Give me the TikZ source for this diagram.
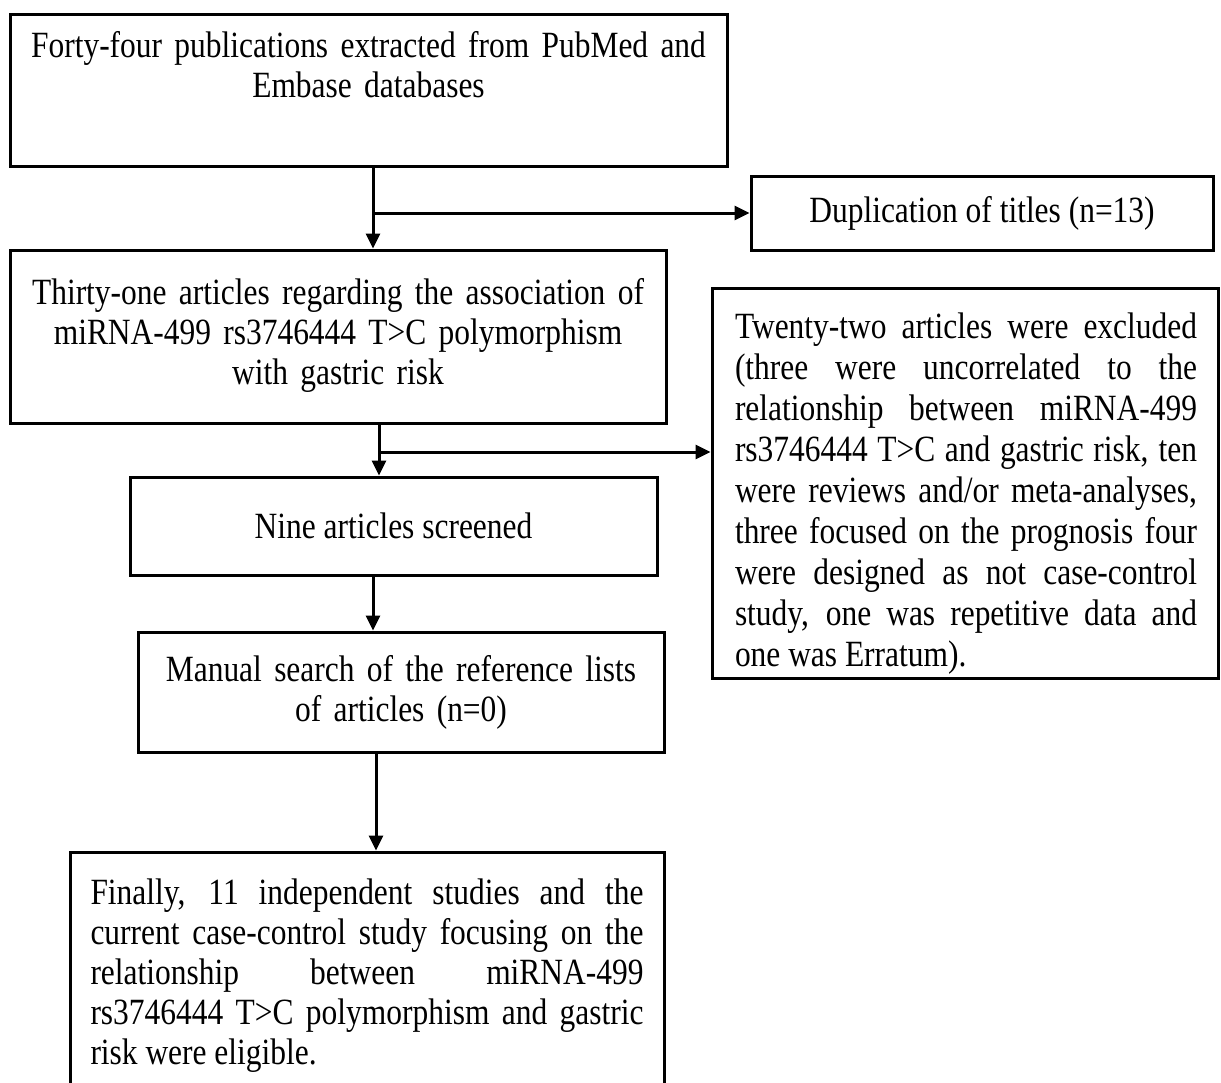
\documentclass[tikz,border=0pt]{standalone}
\usepackage{fontspec}
\setmainfont{Liberation Serif}[FakeStretch=0.85]
\usetikzlibrary{arrows.meta}
\begin{document}
\begin{tikzpicture}[x=1pt,y=-1pt,
  box/.style={draw,line width=3pt,inner sep=0pt,font=\fontsize{37}{40}\selectfont},
  arr/.style={line width=3pt,-{Triangle[length=15pt,width=14pt]}}]
\useasboundingbox[fill=white] (0,0) rectangle (1221,1082);
\node[box,minimum width=717pt,minimum height=152pt,text width=700pt,align=center] (b1) at (368.5,90)
  {Forty-four publications extracted from PubMed and\\ Embase databases\\ \strut};
\node[box,minimum width=462pt,minimum height=74pt] (dup) at (982,213) {Duplication of titles (n=13)};
\node[box,minimum width=656pt,minimum height=173pt,text width=640pt,align=center] (b2) at (338,336.5)
  {Thirty-one articles regarding the association of\\ miRNA-499 rs3746444 T>C polymorphism\\ with gastric risk\\[-30pt]\mbox{}};
\node[box,minimum width=506pt,minimum height=390pt] (excl) at (965,483) {};
\node[inner sep=0pt,text width=462pt,align=justify,font=\fontsize{37}{41}\selectfont] (exclt) at (966,494)
  {Twenty-two articles were excluded\linebreak (three were uncorrelated to the\linebreak relationship between miRNA-499\linebreak rs3746444 T>C and gastric risk, ten\linebreak were reviews and/or meta-analyses,\linebreak three focused on the prognosis four\linebreak were designed as not case-control\linebreak study, one was repetitive data and\linebreak one was Erratum).};
\node[box,minimum width=527pt,minimum height=98pt] (b3) at (393.5,526) {Nine articles screened};
\node[box,minimum width=526pt,minimum height=120pt,text width=510pt,align=center] (b4) at (401,692)
  {Manual search of the reference lists\\ of articles (n=0)};
\node[box,minimum width=594pt,minimum height=248pt,text width=553pt,align=justify] (b5) at (367,976)
  {Finally, 11 independent studies and the\linebreak current case-control study focusing on the\linebreak relationship between miRNA-499\linebreak rs3746444 T>C polymorphism and gastric\linebreak risk were eligible.};
\coordinate (j1) at (373,213);
\coordinate (j2) at (379,452);
\coordinate (j3) at (373,600);
\coordinate (j4) at (376,800);
\draw[arr] (j1 |- b1.south) -- (j1 |- b2.north);
\draw[arr] (j1) -- (j1 -| dup.west);
\draw[arr] (j2 |- b2.south) -- (j2 |- b3.north);
\draw[arr] (j2) -- (j2 -| excl.west);
\draw[arr] (j3 |- b3.south) -- (j3 |- b4.north);
\draw[arr] (j4 |- b4.south) -- (j4 |- b5.north);
\end{tikzpicture}
\end{document}
